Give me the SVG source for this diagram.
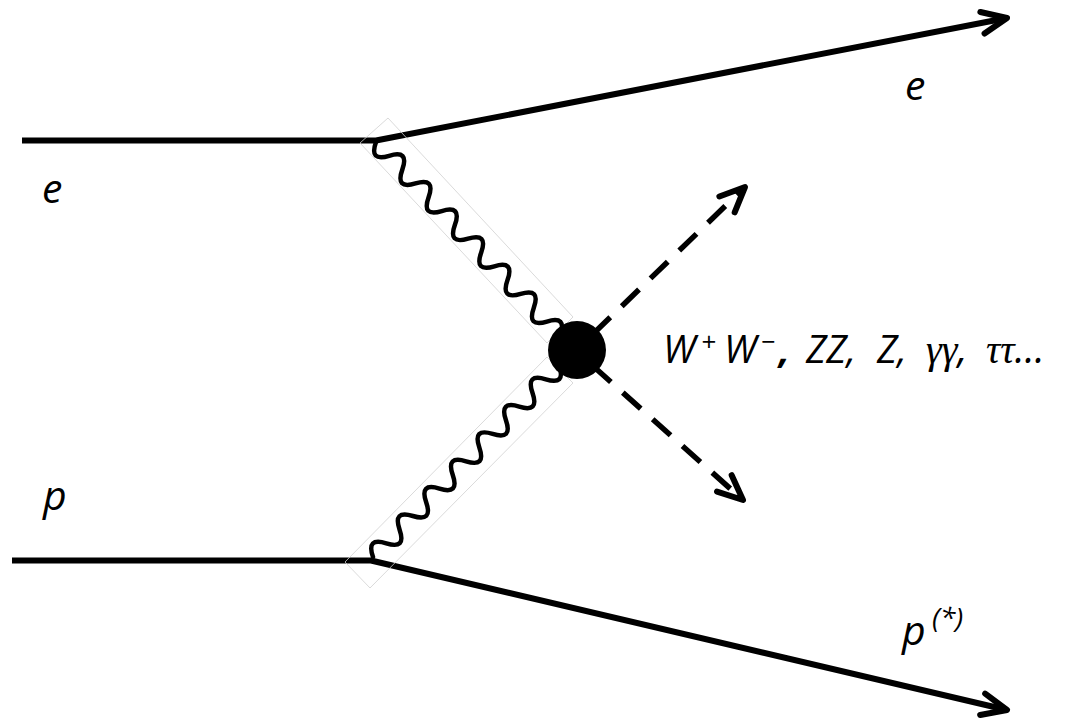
<svg xmlns="http://www.w3.org/2000/svg" width="1067" height="719" viewBox="0 0 1067 719">
  <style>
    .line { fill: none; stroke: #000; stroke-width: 6; stroke-linecap: butt; stroke-linejoin: round; }
    .dash { fill: none; stroke: #000; stroke-width: 5.5; stroke-dasharray: 24 16; }
    .wave { fill: none; stroke: #000; stroke-width: 4.5; stroke-linecap: round; stroke-linejoin: round; }
    .frame { fill: none; stroke: #d0d0d0; stroke-width: 0.8; }
    .lbl { font-family: "Open Sans", "Liberation Sans", sans-serif; font-style: italic; fill: #000; }
    .greek { font-family: "Liberation Serif", "DejaVu Serif", serif; font-style: italic; }
  </style>
  <defs>
    <marker id="chev" markerUnits="userSpaceOnUse" viewBox="-30 -16 36 32" refX="0" refY="0" markerWidth="36" markerHeight="32" orient="auto" overflow="visible">
      <path d="M-25,-11 L0,0 L-25,11" fill="none" stroke="#000" stroke-width="6" stroke-linecap="round" stroke-linejoin="round"/>
    </marker>
  </defs>

  <rect width="1067" height="719" fill="#fff"/>

  <!-- connectors -->
  <g id="connectors">
    <!-- incoming / outgoing electron -->
    <path class="line" d="M22,140.5 L376,140.5 L1007,18" marker-end="url(#chev)"/>
    <!-- incoming / outgoing proton -->
    <path class="line" d="M12,560.5 L371,560.5 L1007,710" marker-end="url(#chev)"/>

    <!-- photon frames -->
    <polygon class="frame" points="388,118 360,143 547,343 573,317"/>
    <polygon class="frame" points="345,562 370,588 573,383 547,357"/>

    <!-- photon from electron vertex: 7 periods -->
    <g transform="translate(376,142) rotate(46.4)">
      <path class="wave" d="M0,0 q9.54,19 19.07,0 t19.07,0 t19.07,0 t19.07,0 t19.07,0 t19.07,0 t19.07,0 t19.07,0 t19.07,0 t19.07,0 t19.07,0 t19.07,0 t19.07,0 t19.07,0"/>
    </g>
    <!-- photon from proton vertex: 7 periods -->
    <g transform="translate(373,557) rotate(-45.8)">
      <path class="wave" d="M0,0 q9.54,-19 19.07,0 t19.07,0 t19.07,0 t19.07,0 t19.07,0 t19.07,0 t19.07,0 t19.07,0 t19.07,0 t19.07,0 t19.07,0 t19.07,0 t19.07,0 t19.07,0"/>
    </g>

    <!-- produced final states -->
    <path class="dash" d="M593,334 L745,187" marker-end="url(#chev)"/>
    <path class="dash" d="M593,366 L743,500" marker-end="url(#chev)"/>
  </g>

  <!-- production vertex -->
  <g id="vertex">
    <circle cx="577" cy="350" r="29" fill="#000"/>
  </g>

  <!-- labels -->
  <g id="label-e-in"><text class="lbl" x="42" y="203" font-size="41">e</text></g>
  <g id="label-e-out"><text class="lbl" x="905" y="100" font-size="41">e</text></g>
  <g id="label-p-in"><text class="lbl" x="43" y="510" font-size="41">p</text></g>
  <g id="label-p-out">
    <text class="lbl" x="902" y="645" font-size="41">p</text>
    <text class="lbl" x="932" y="628" font-size="28">(*)</text>
  </g>
  <g id="label-final" class="lbl" font-size="38">
    <text x="663" y="363">W</text>
    <text x="701" y="351" font-size="26">+</text>
    <text x="724" y="363">W</text>
    <text x="761" y="351" font-size="26">−</text>
    <text x="779" y="363" font-weight="bold">,</text>
    <text x="806" y="363">ZZ,</text>
    <text x="877" y="363">Z,</text>
    <text x="926" y="363" font-size="40"><tspan class="greek">γγ</tspan>,</text>
    <text x="986" y="363" font-size="40"><tspan class="greek">ττ</tspan>...</text>
  </g>
</svg>
